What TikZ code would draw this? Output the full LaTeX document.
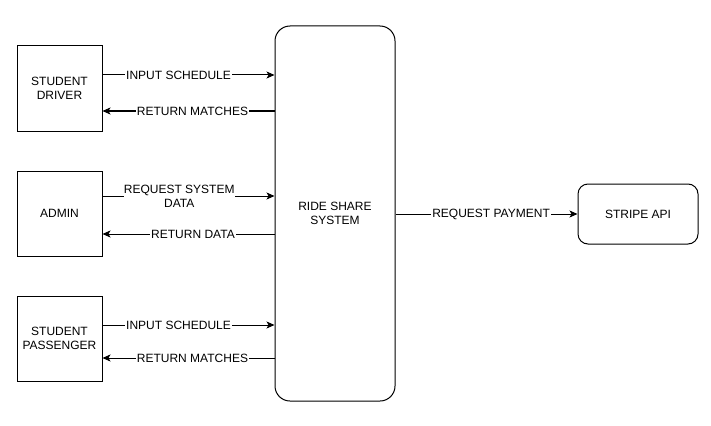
\documentclass[tikz,border=0pt]{standalone}
\usepackage{fontspec}
\setmainfont{Liberation Sans}
\usetikzlibrary{arrows.meta}
\begin{document}
\begin{tikzpicture}[x=1pt,y=-1pt,
  every node/.style={font=\fontsize{12}{14}\selectfont},
  actor/.style={draw,line width=1pt,minimum width=85pt,minimum height=85pt,align=center,inner sep=0pt},
  sysbox/.style={draw,line width=1pt,rounded corners=15pt,minimum width=120pt,minimum height=375pt,align=center,inner sep=0pt},
  apibox/.style={draw,line width=1pt,rounded corners=10pt,minimum width=120pt,minimum height=60pt,align=center,inner sep=0pt},
  arr/.style={line width=1pt,-{Stealth[length=8pt,width=7pt,inset=2pt]}},
  lbl/.style={fill=white,inner sep=1pt,align=center}]
\useasboundingbox (0,0) rectangle (711,425);
\node[actor] (drv) at (59.5,88.5) {STUDENT\\DRIVER};
\node[actor] (adm) at (59.5,213.5) {ADMIN};
\node[actor] (pas) at (59.5,338.5) {STUDENT\\PASSENGER};
\node[sysbox] (rs) at (335,213.5) {RIDE SHARE\\SYSTEM};
\node[apibox] (api) at (638,214) {STRIPE API};
\draw[arr] (drv.east |- 0,75) -- node[lbl,pos=0.442] {INPUT SCHEDULE} (rs.west |- 0,75);
\draw[arr] (rs.west |- 0,111) -- node[lbl,pos=0.477] {RETURN MATCHES} (drv.east |- 0,111);
\draw[arr] (adm.east |- 0,196) -- node[lbl,pos=0.446,inner sep=0pt] {REQUEST SYSTEM\\DATA} (rs.west |- 0,196);
\draw[arr] (rs.west |- 0,234) -- node[lbl,pos=0.474] {RETURN DATA} (adm.east |- 0,234);
\draw[arr] (pas.east |- 0,325) -- node[lbl,pos=0.442] {INPUT SCHEDULE} (rs.west |- 0,325);
\draw[arr] (rs.west |- 0,358) -- node[lbl,pos=0.477] {RETURN MATCHES} (pas.east |- 0,358);
\draw[arr] (rs.east |- 0,214) -- node[lbl,pos=0.525] {REQUEST PAYMENT} (api.west |- 0,214);
\end{tikzpicture}
\end{document}
